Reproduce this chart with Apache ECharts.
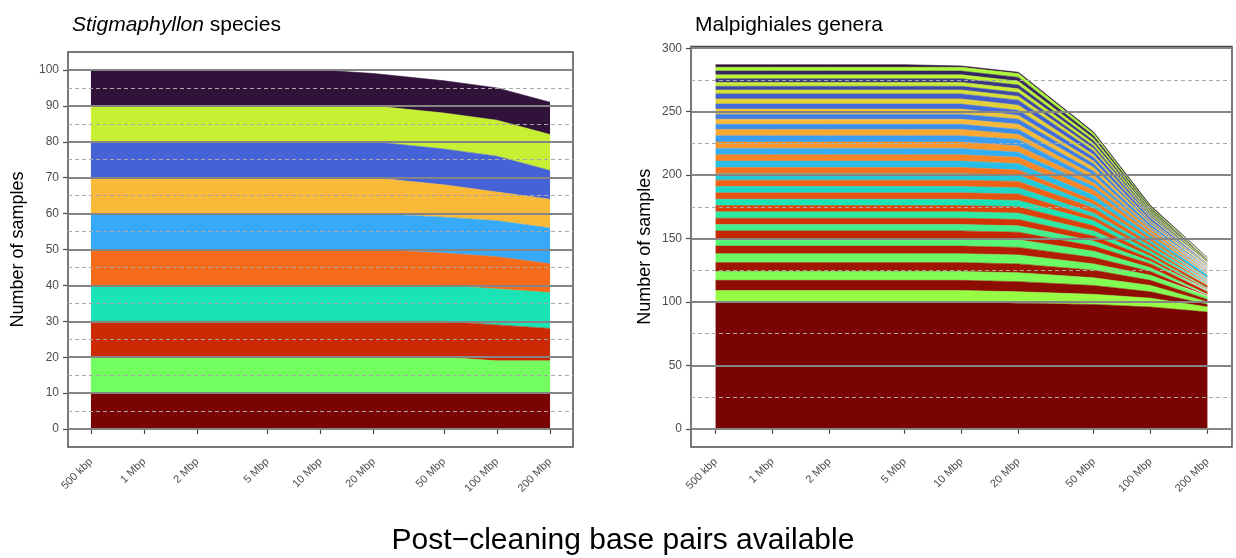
<!DOCTYPE html>
<html><head><meta charset="utf-8">
<script src="https://cdn.jsdelivr.net/npm/echarts@6/dist/echarts.min.js"></script>
<style>html,body{margin:0;padding:0;background:#fff}#c{width:1236px;height:558px}</style>
</head><body><div id="c"></div>
<script>
// ---------- DATA ----------
const thresholdsMbp = [0.5, 1, 2, 5, 10, 20, 50, 100, 200];
const thresholdLabels = ['500 kbp', '1 Mbp', '2 Mbp', '5 Mbp', '10 Mbp', '20 Mbp', '50 Mbp', '100 Mbp', '200 Mbp'];

// Stigmaphyllon species, bottom to top of the stack
const speciesCounts = [
  [10,10,10,10,10,10,10,10,10],
  [10,10,10,10,10,10,10, 9, 9],
  [10,10,10,10,10,10,10,10, 9],
  [10,10,10,10,10,10,10,10,10],
  [10,10,10,10,10,10, 9, 9, 8],
  [10,10,10,10,10,10,10,10,10],
  [10,10,10,10,10,10, 9, 8, 8],
  [10,10,10,10,10,10,10,10, 8],
  [10,10,10,10,10,10,10,10,10],
  [10,10,10,10,10, 9, 9, 9, 9]
];

// Malpighiales genera, bottom to top of the stack
const genusCounts = [
  [100,100,100,100,100,99,98,96,92],
  [9,9,9,9,9,9,8,7,4],
  [8,8,8,8,8,8,7,5,2],
  [7,7,7,7,7,7,6,5,2],
  [7,7,7,7,7,7,6,4,2],
  [7,7,7,7,7,7,5,4,2],
  [6,6,6,6,6,6,5,3,1],
  [6,6,6,6,6,6,5,3,1],
  [6,6,6,6,6,6,4,3,2],
  [5,5,5,5,5,5,4,2,1],
  [5,5,5,5,5,5,4,2,1],
  [5,5,5,5,5,5,4,2,1],
  [5,5,5,5,5,5,4,2,2],
  [5,5,5,5,5,5,4,2,1],
  [5,5,5,5,5,5,3,2,1],
  [5,5,5,5,5,5,3,2,1],
  [5,5,5,5,5,5,4,2,1],
  [5,5,5,5,5,5,3,2,1],
  [5,5,5,5,5,4,3,2,1],
  [5,5,5,5,5,5,4,2,2],
  [5,5,5,5,5,5,4,2,1],
  [5,5,5,5,5,4,3,1,1],
  [5,5,5,5,5,5,3,2,1],
  [5,5,5,5,5,5,3,1,1],
  [5,5,5,5,5,4,3,1,1],
  [4,4,4,4,4,4,3,2,1],
  [4,4,4,4,4,4,3,1,1],
  [4,4,4,4,4,4,3,1,1],
  [4,4,4,4,4,3,2,1,0],
  [4,4,4,4,4,4,3,2,1],
  [4,4,4,4,4,4,2,1,1],
  [4,4,4,4,4,4,3,1,1],
  [3,3,3,3,3,3,2,1,0],
  [3,3,3,3,3,3,2,1,0],
  [3,3,3,3,3,3,2,1,0],
  [3,3,3,3,3,3,2,1,1],
  [3,3,3,3,3,3,2,1,0],
  [3,3,3,3,3,3,2,1,0],
  [3,3,3,3,3,3,2,1,1],
  [2,2,2,2,1,1,1,1,1]
];

const leftYTicks = [0,10,20,30,40,50,60,70,80,90,100];
const leftYMinor = [5,15,25,35,45,55,65,75,85,95];
const rightYTicks = [0,50,100,150,200,250,300];
const rightYMinor = [25,75,125,175,225,275];

// ---------- STYLE HELPERS ----------
const turboAnchors = [
  [0, '#30123B'], [1/9, '#4662D7'], [2/9, '#36AAF9'], [0.25, '#28BBEC'], [1/3, '#1AE4B6'],
  [4/9, '#72FE5E'], [0.5, '#A2FC3C'], [5/9, '#C7EF34'], [2/3, '#FABA39'], [0.75, '#FB8022'],
  [7/9, '#F66B19'], [8/9, '#CB2A04'], [1, '#7A0403']
];
function hex2rgb(h){return [1,3,5].map(i=>parseInt(h.substr(i,2),16));}
function turbo(t){
  for(let i=0;i<turboAnchors.length-1;i++){
    const [a,ca]=turboAnchors[i],[b,cb]=turboAnchors[i+1];
    if(t>=a-1e-9&&t<=b+1e-9){
      const f=(t-a)/(b-a), A=hex2rgb(ca), B=hex2rgb(cb);
      const c=A.map((v,k)=>Math.round(v+(B[k]-v)*f));
      return 'rgb('+c.join(',')+')';
    }
  }
  return turboAnchors[turboAnchors.length-1][1];
}
// interleaved palette order used in the figure (bottom to top)
function stackColors(n){
  const half=n/2, out=[];
  for(let k=1;k<=half;k++){ out.push(n+1-k); out.push(half+1-k); }
  return out.map(idx=>turbo((idx-1)/(n-1)));
}

const FONT = '"Liberation Sans", Arial, Helvetica, sans-serif';
const logPad = Math.pow(10, 0.05*Math.log10(thresholdsMbp[thresholdsMbp.length-1]/thresholdsMbp[0]));
const xMin = thresholdsMbp[0]/logPad, xMax = thresholdsMbp[thresholdsMbp.length-1]*logPad;

function xLabel(v){
  for(let i=0;i<thresholdsMbp.length;i++){
    if(Math.abs(Math.log10(v)-Math.log10(thresholdsMbp[i]))<1e-6) return thresholdLabels[i];
  }
  return '';
}

function makeX(gi){
  return {
    type:'log', logBase:10, gridIndex:gi, min:xMin, max:xMax,
    axisLine:{show:false},
    axisTick:{show:true, customValues:thresholdsMbp, length:5, lineStyle:{color:'#4d4d4d', width:1.2}},
    axisLabel:{customValues:thresholdsMbp, rotate:45, formatter:xLabel, fontSize:11, color:'#4d4d4d',
      fontFamily:FONT, margin:13},
    splitLine:{show:false}, minorTick:{show:false}
  };
}
function makeY(gi, lo, hi, ticks, gap){
  return {
    type:'value', gridIndex:gi, min:lo, max:hi,
    name:'Number of samples', nameLocation:'middle', nameGap:gap, nameRotate:90,
    nameTextStyle:{fontSize:18, color:'#000', fontFamily:FONT},
    axisLine:{show:false},
    axisTick:{show:true, customValues:ticks, length:5, lineStyle:{color:'#4d4d4d', width:1.2}},
    axisLabel:{customValues:ticks, fontSize:12, color:'#4d4d4d', fontFamily:FONT, margin:9},
    splitLine:{show:false}
  };
}
function gridLines(gi, major, minor){
  return {
    type:'line', xAxisIndex:gi, yAxisIndex:gi, data:[], z:20, silent:true,
    markLine:{
      symbol:['none','none'], silent:true, label:{show:false}, animation:false,
      emphasis:{disabled:true},
      data:[
        ...minor.map(v=>({yAxis:v, lineStyle:{color:'#a8a8a8', width:1, type:[4,3]}})),
        ...major.map(v=>({yAxis:v, lineStyle:{color:'#858585', width:2, type:'solid'}}))
      ]
    }
  };
}
function areaSeries(counts, gi, stackName){
  const cols = stackColors(counts.length);
  return counts.map((row,i)=>({
    type:'line', xAxisIndex:gi, yAxisIndex:gi, stack:stackName,
    // rows are [count, threshold]; encode maps them so the count dimension is the stacked one
    data: row.map((v,j)=>[v, thresholdsMbp[j]]),
    encode:{x:1, y:0},
    showSymbol:false, symbol:'none', silent:true,
    lineStyle:{width:0.6, color:cols[i]}, areaStyle:{color:cols[i], opacity:1},
    itemStyle:{color:cols[i]}, z:2
  }));
}

const chart = echarts.init(document.getElementById('c'), null, {renderer:'canvas'});
chart.setOption({
  animation:false,
  backgroundColor:'#fff',
  title:[
    {text:'{i|Stigmaphyllon} species', left:67, top:10,
      textStyle:{fontSize:21, fontWeight:'normal', color:'#000', fontFamily:FONT,
        rich:{i:{fontStyle:'italic', fontSize:21, color:'#000', fontFamily:FONT}}}},
    {text:'Malpighiales genera', left:690, top:10,
      textStyle:{fontSize:21, fontWeight:'normal', color:'#000', fontFamily:FONT}}
  ],
  graphic:[{type:'text', x:623, y:541,
    style:{text:'Post\u2212cleaning base pairs available', fontSize:30, fill:'#000', fontFamily:FONT,
      align:'center', verticalAlign:'middle'}}],
  grid:[
    {left:68, right:1236-573, top:52, bottom:558-447, show:true, borderColor:'#4d4d4d', borderWidth:1.5, backgroundColor:'#fff'},
    {left:691, right:1236-1232, top:46.5, bottom:558-447, show:true, borderColor:'#4d4d4d', borderWidth:1.5, backgroundColor:'#fff'}
  ],
  xAxis:[makeX(0), makeX(1)],
  yAxis:[makeY(0,-5,105,leftYTicks,41), makeY(1,-14.35,301.35,rightYTicks,37)],
  series:[
    ...areaSeries(speciesCounts,0,'sp'),
    ...areaSeries(genusCounts,1,'gen'),
    gridLines(0,leftYTicks,leftYMinor),
    gridLines(1,rightYTicks,rightYMinor)
  ]
});
</script></body></html>
